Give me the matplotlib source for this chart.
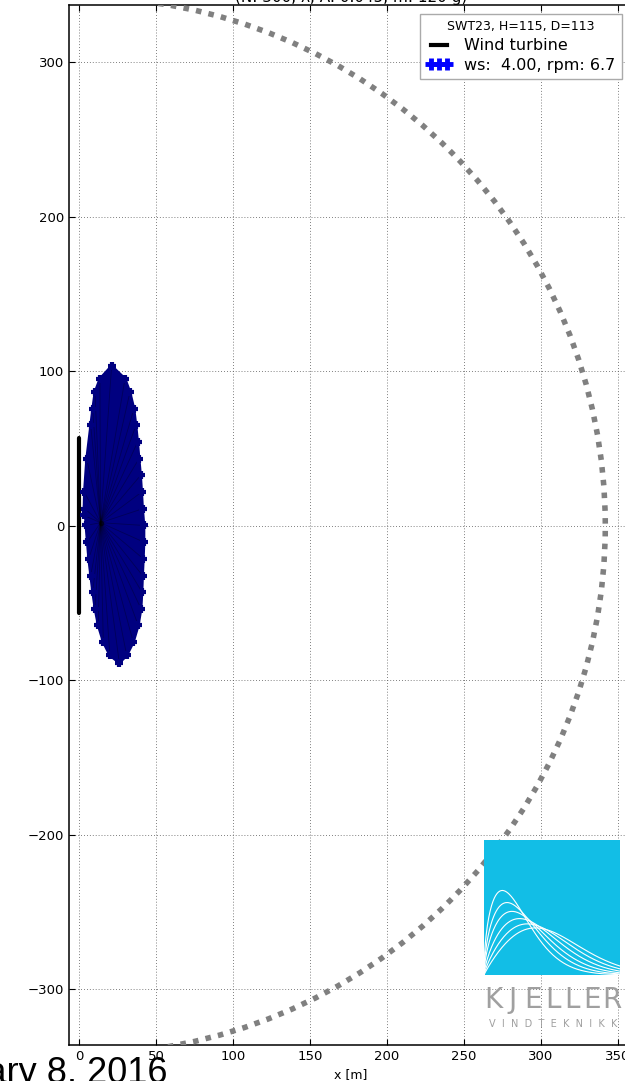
import numpy as np
import matplotlib
matplotlib.use("Agg")
import matplotlib.pyplot as plt
from matplotlib.patches import Circle, Polygon
from matplotlib.lines import Line2D

# --- data ----------------------------------------------------------------
turbine_height = 115
rotor_diameter = 113
throw_radius = 342          # 1.5 * (H + D)

# outline of the landing cloud (tip landings), clockwise from the top
cloud_x = [21.2, 29.9, 33.1, 35.7, 37.0, 38.1, 39.0, 40.0, 40.7, 41.3, 42.2,
           42.2, 41.8, 41.3, 40.9, 40.3, 38.5, 35.3, 31.0, 26.2,
           20.1, 15.8, 12.5, 10.4, 8.9, 7.6, 6.3, 5.4, 4.5, 3.9, 3.2,
           3.5, 5.0, 7.6, 8.9, 10.4, 13.6]
cloud_y = [103.4, 95.1, 86.5, 75.7, 64.9, 54.2, 43.4, 32.6, 21.8, 11.0, 0.2,
           -10.6, -21.4, -32.2, -42.9, -53.7, -64.5, -75.3, -83.9, -88.7,
           -83.9, -75.3, -64.5, -53.7, -42.9, -32.2, -21.4, -10.6, 0.2, 11.0, 6.7,
           21.8, 43.4, 64.9, 75.7, 86.5, 95.1]
hub_x, hub_y = 14.0, 2.0

ws = 4.00
rpm = 6.7

x_ticks = [0, 50, 100, 150, 200, 250, 300, 350]
y_ticks = [-300, -200, -100, 0, 100, 200, 300]

# logo curves (weibull shape / scale)
logo_k = [1.5, 1.55, 1.6, 1.7, 1.8, 1.9]
logo_A = [0.28, 0.33, 0.38, 0.44, 0.50, 0.56]

W, H = 625, 1081
fig = plt.figure(figsize=(W / 100, H / 100), dpi=100)
ax = fig.add_axes([69 / W, 1 - 1045 / H, 564 / W, 1040 / H])

ax.set_xlim(-6.5, 360)
ax.set_ylim(-336, 337)

ax.grid(True, ls=(0, (1, 2.5)), color="#555555", lw=0.6)
ax.set_xticks(x_ticks)
ax.set_yticks(y_ticks)
ax.tick_params(direction="in", top=True, right=True, labelsize=9.5, length=4)
ax.set_xlabel("x [m]", fontsize=9, labelpad=4)
ax.set_ylabel("y [m]", fontsize=9, labelpad=28)
for s in ax.spines.values():
    s.set_linewidth(1.1)

# safety circle
ax.add_patch(Circle((0, 0), throw_radius, fill=False, ec="grey",
                    lw=4, ls=(0, (1, 1.3)), zorder=3))

# turbine
ax.plot([0, 0], [-rotor_diameter / 2, rotor_diameter / 2], color="black",
        lw=3, solid_capstyle="round", zorder=4)

# landing cloud
pts = np.column_stack([cloud_x, cloud_y])
ax.add_patch(Polygon(pts, closed=True, fc="#000080", ec="#000080", lw=2, zorder=4))
for cx, cy in zip(cloud_x, cloud_y):
    ax.plot([hub_x, cx], [hub_y, cy], color="black", lw=0.6, alpha=0.3, zorder=5)
ax.plot(cloud_x, cloud_y, ls="none", marker="+", ms=6, mew=3, color="#000080", zorder=5)
ax.plot([hub_x], [hub_y], ls="none", marker="o", ms=3, color="black", alpha=0.5, zorder=5)

ax.text(0.5, 1.0, "(N: 300, \u03bb, A: 0.045, m: 120 g)", transform=ax.transAxes,
        ha="center", va="bottom", fontsize=11)

h1 = Line2D([], [], color="black", lw=3)
h2 = Line2D([], [], ls="none", marker="+", ms=9, mew=3.5, color="blue")
leg = ax.legend([h1, h2], ["Wind turbine", "ws:  %.2f, rpm: %.1f" % (ws, rpm)],
                title="SWT23, H=%d, D=%d" % (turbine_height, rotor_diameter),
                loc="upper right", bbox_to_anchor=(622 / W, 1 - 14 / H),
                bbox_transform=fig.transFigure, borderaxespad=0, fontsize=11.5,
                title_fontsize=9, numpoints=3, handlelength=1.6, fancybox=False,
                framealpha=1, edgecolor="#aaaaaa", borderpad=0.4, labelspacing=0.3)
leg.set_zorder(10)

# logo
lax = fig.add_axes([484 / W, 1 - 975 / H, 136 / W, 135 / H])
lax.set_facecolor("#12bee6")
xs = np.linspace(0, 1, 200)
for k, A in zip(logo_k, logo_A):
    pdf = (k / A) * (xs / A) ** (k - 1) * np.exp(-(xs / A) ** k)
    lax.plot(xs, pdf, color="white", lw=0.8)
lax.set_xlim(0, 1)
lax.set_ylim(0, 4.25)
lax.set_xticks([])
lax.set_yticks([])
for s in lax.spines.values():
    s.set_visible(False)

logo_word = "KJELLER"
for i, ch in enumerate(logo_word):
    xp = 493 + i * (612 - 493) / (len(logo_word) - 1)
    fig.text(xp / W, 1 - 1008 / H, ch, ha="center", va="baseline",
             fontsize=20, color="#a0a0a0")
fig.text(553 / W, 1 - 1027 / H, "V  I  N  D  T  E  K  N  I  K  K", ha="center",
         va="baseline", fontsize=7, color="#a0a0a0")

fig.text(168 / W, 1 - 1083 / H, "January 8, 2016", ha="right", va="baseline",
         fontsize=26, family="Liberation Sans", color="black")

fig.savefig("out.png", dpi=100)
